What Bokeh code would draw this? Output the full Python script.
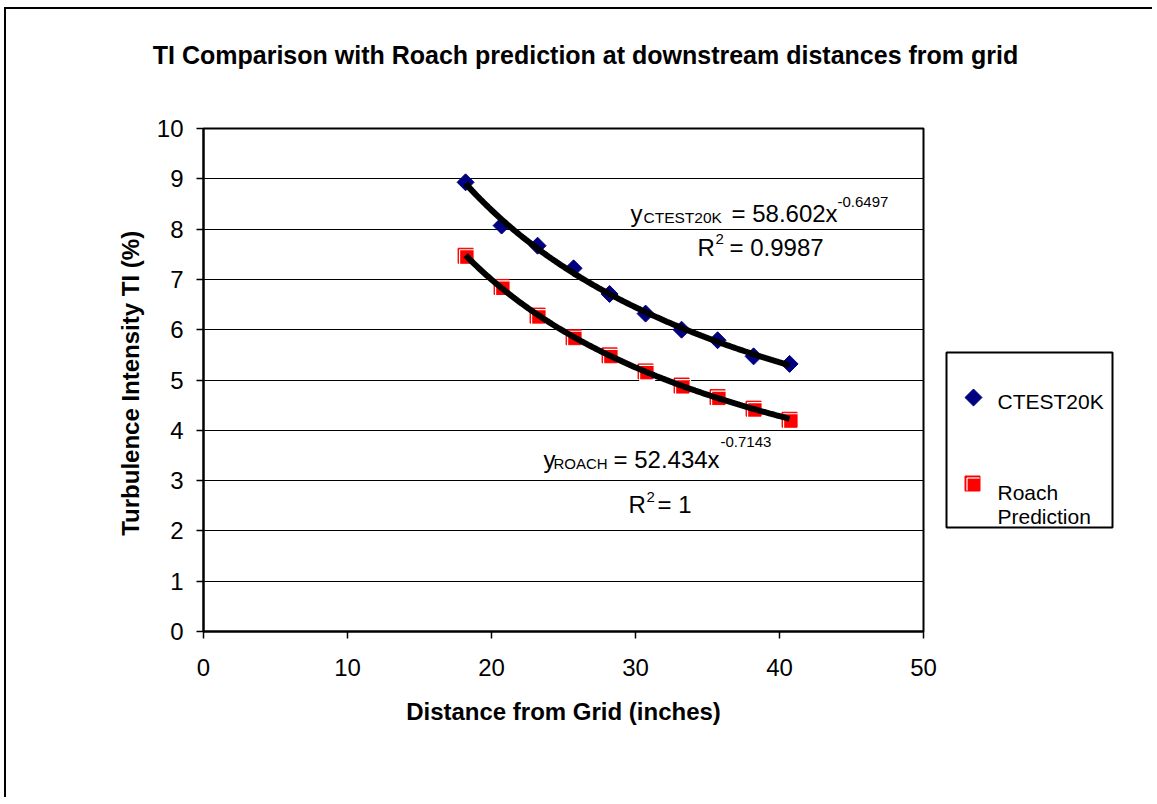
import numpy as np
from bokeh.plotting import figure
from bokeh.models import Range1d, FixedTicker, Label
from bokeh.embed import file_html
from bokeh.resources import INLINE

# ---------------- data ----------------
distance = [18.2, 20.7, 23.2, 25.7, 28.2, 30.7, 33.2, 35.7, 38.2, 40.7]
ctest20k = [8.93, 8.07, 7.67, 7.22, 6.71, 6.32, 6.00, 5.79, 5.47, 5.32]
roach = [7.47, 6.85, 6.28, 5.85, 5.49, 5.17, 4.89, 4.66, 4.43, 4.21]
x_ticks = [0, 10, 20, 30, 40, 50]
y_ticks = [0, 1, 2, 3, 4, 5, 6, 7, 8, 9, 10]
series_names = ["CTEST20K", "Roach", "Prediction"]
title_text = "TI Comparison with Roach prediction at downstream distances from grid"
x_label = "Distance from Grid (inches)"
y_label = "Turbulence Intensity TI  (%)"

FONT = "Liberation Sans"
NAVY = "#000080"
RED = "#FF0000"
W, H = 1148, 790
FL, FT, FW, FH = 197, 119, 720, 503

# ---------------- main chart ----------------
p = figure(width=W, height=H, x_range=Range1d(0, 50), y_range=Range1d(0, 10),
           output_backend="svg", toolbar_location=None, title=None,
           min_border_left=FL, min_border_right=W - FL - FW,
           min_border_top=FT, min_border_bottom=H - FT - FH)
p.styles = {"margin-left": "6px", "margin-top": "9px",
            "box-shadow": "-2px -2px 0px 0px black"}
p.background_fill_color = "white"
p.border_fill_color = "white"
p.outline_line_color = "black"
p.outline_line_width = 2

p.xaxis.ticker = FixedTicker(ticks=x_ticks)
p.yaxis.ticker = FixedTicker(ticks=y_ticks)
for ax in (p.xaxis[0], p.yaxis[0]):
    ax.axis_line_color = "black"
    ax.axis_line_width = 2
    ax.major_tick_out = 7
    ax.major_tick_in = 0
    ax.major_tick_line_color = "black"
    ax.major_tick_line_width = 1.5
    ax.minor_tick_line_color = None
    ax.major_label_text_font = FONT
    ax.major_label_text_font_size = "24px"
    ax.major_label_text_color = "black"
    ax.axis_label_text_font = FONT
    ax.axis_label_text_font_size = "24px"
    ax.axis_label_text_font_style = "bold"
    ax.axis_label_text_color = "black"
p.xaxis.axis_label = x_label
p.yaxis.axis_label = y_label
p.xaxis.major_label_standoff = 20
p.yaxis.major_label_standoff = 13
p.xaxis.axis_label_standoff = 19
p.yaxis.axis_label_standoff = 10
p.xgrid.grid_line_color = None
p.ygrid.grid_line_color = "black"
p.ygrid.grid_line_width = 1

# markers
p.scatter(distance, ctest20k, marker="square", size=12, angle=np.pi / 4,
          fill_color=NAVY, line_color=NAVY)
p.scatter(distance, roach, marker="square", size=15, fill_color=RED, line_color=RED)
px_x = 50 / FW
px_y = 10 / FH
p.scatter([d + 1.5 * px_x for d in distance], [r - 1.5 * px_y for r in roach],
          marker="square", size=15, fill_color=None, line_color="white", line_width=1.2)

# power trendlines fitted to the data
def power_fit(xs, ys):
    b, a = np.polyfit(np.log(xs), np.log(ys), 1)
    xx = np.linspace(min(xs), max(xs), 200)
    return xx, np.exp(a) * xx ** b

for ys in (ctest20k, roach):
    xx, yy = power_fit(distance, ys)
    p.line(xx, yy, line_color="black", line_width=6)

# equation texts (screen units relative to the plot area)
def txt(x, y, t, size):
    p.add_layout(Label(x=x, y=y, x_units="screen", y_units="screen", text=t,
                       text_font=FONT, text_font_size=size,
                       text_align="left", text_baseline="alphabetic", text_color="black"))

txt(427, 418, "y", "24px")
txt(440, 414, "CTEST20K", "15.5px")
txt(528, 418, "= 58.602x", "24px")
txt(634, 430, "-0.6497", "15px")
txt(494, 384, "R", "24px")
txt(512, 393, "2", "15px")
txt(526, 384, "= 0.9987", "24px")

txt(340, 172, "y", "24px")
txt(350, 168, "ROACH", "15px")
txt(410, 172, "= 52.434x", "24px")
txt(517, 190, "-0.7143", "15px")
txt(425, 127, "R", "24px")
txt(443, 135, "2", "15px")
txt(454, 127, "= 1", "24px")

# ---------------- overlay: title and legend (page pixel coordinates) ----------------
OW, OH = 1150, 800
q = figure(width=OW, height=OH, x_range=Range1d(0, OW), y_range=Range1d(OH, 0),
           output_backend="svg", toolbar_location=None, title=None,
           x_axis_type=None, y_axis_type=None, min_border=0)
q.styles = {"position": "absolute", "left": "0px", "top": "0px"}
q.background_fill_color = None
q.border_fill_color = None
q.outline_line_color = None
q.grid.visible = False

def qtxt(x, y, t, size, bold=False, align="left"):
    q.add_layout(Label(x=x, y=y, text=t, text_font=FONT, text_font_size=size,
                       text_font_style="bold" if bold else "normal",
                       text_align=align, text_baseline="alphabetic", text_color="black"))

qtxt(585, 54, title_text, "25px", bold=True, align="center")

# legend box
q.quad(left=[946], right=[1112], top=[352], bottom=[527],
       fill_color="white", line_color="black", line_width=2)
q.scatter([973], [397], marker="square", size=12, angle=np.pi / 4,
          fill_color=NAVY, line_color=NAVY)
qtxt(997, 401, series_names[0], "21px")
q.scatter([972], [483], marker="square", size=15, fill_color=RED, line_color=RED)
q.segment(x0=[966.5, 966.5], y0=[490, 477.5], x1=[966.5, 979], y1=[477.5, 477.5],
          line_color="white", line_width=1.2)
qtxt(997, 492, series_names[1], "21px")
qtxt(997, 516, series_names[2], "21px")

open("out.html", "w").write(file_html([p, q], INLINE))
